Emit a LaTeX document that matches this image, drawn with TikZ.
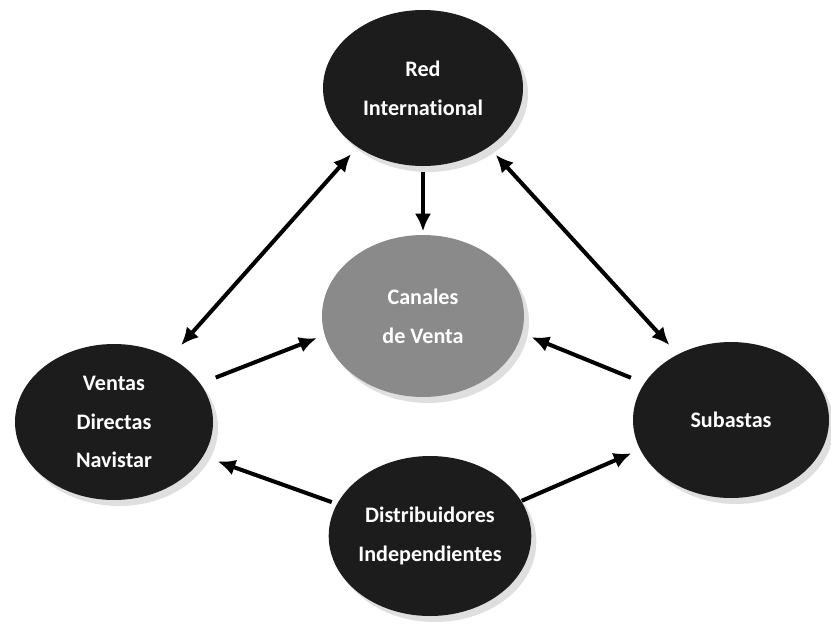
\documentclass[tikz,border=0pt]{standalone}
\usepackage{fontspec}
\setmainfont{Carlito}[Ligatures=NoCommon]
\usepackage{tikz}
\usetikzlibrary{shapes.geometric, arrows.meta, positioning, shadows}
\definecolor{bubbledark}{HTML}{1C1C1C}
\definecolor{hubgray}{HTML}{8A8A8A}

\begin{document}
\begin{tikzpicture}[
  bubble/.style={ellipse, fill=bubbledark, text=white, align=center, inner sep=0pt,
    font=\fontsize{6.3}{11}\selectfont\bfseries,
    drop shadow={shadow xshift=0.5mm, shadow yshift=-0.6mm, fill=black!25}},
  hub/.style={bubble, fill=hubgray},
  link/.style={line width=1.15pt, -{Latex[length=5pt,width=4.6pt]}},
  duplex/.style={line width=1.15pt, {Latex[length=5pt,width=4.6pt]}-{Latex[length=5pt,width=4.6pt]}}
]
  \useasboundingbox (0,0) rectangle (8.31,-6.26);

  % Channels
  \node[bubble, minimum width=2.0cm, minimum height=1.56cm] (red) at (4.23,-0.88) {Red\\International};
  \node[hub, minimum width=2.02cm, minimum height=1.62cm] (canales) at (4.23,-3.16) {Canales\\de Venta};
  \node[bubble, minimum width=1.98cm, minimum height=1.56cm] (ventas) at (1.14,-4.22) {Ventas\\Directas\\Navistar};
  \node[bubble, minimum width=1.96cm, minimum height=1.56cm] (subastas) at (7.31,-4.20) {Subastas};
  \node[bubble, minimum width=1.96cm, minimum height=1.60cm] (distrib) at (4.30,-5.36) {Distribuidores\\Independientes};

  % Connectors
  \draw[duplex, shorten <=0.09cm, shorten >=0.16cm] (red.222) -- (ventas.49);
  \draw[duplex, shorten <=0.10cm, shorten >=0.12cm] (red.318) -- (subastas.129);
  \foreach \from/\to/\pre/\post in {
    red.south/canales.north/0.05/0.03,
    ventas.24/canales.191/0.16/0.08,
    subastas.157/canales.350/0.14/0.10,
    distrib.161/ventas.339/0.05/0.15,
    distrib.21/subastas.198/0.0/0.09
  } {
    \draw[link, shorten <=\pre cm, shorten >=\post cm] (\from) -- (\to);
  }
\end{tikzpicture}
\end{document}
